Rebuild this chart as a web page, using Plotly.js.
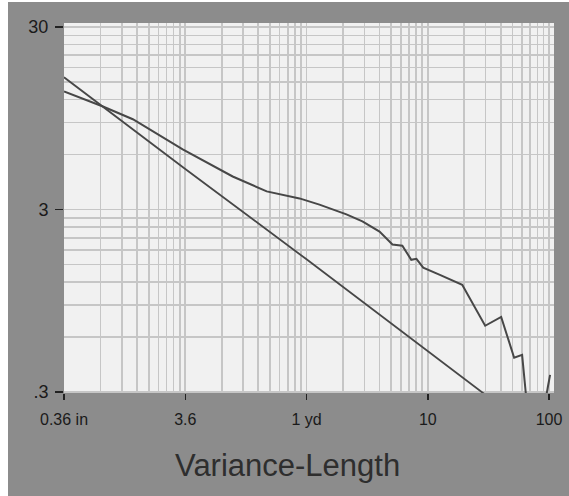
<!DOCTYPE html>
<html>
<head>
<meta charset="utf-8">
<script src="https://cdn.plot.ly/plotly-3.0.1.min.js"></script>
<style>
html,body{margin:0;padding:0;background:#ffffff;}
#chart{position:absolute;left:8px;top:2px;width:561px;height:494px;}
</style>
</head>
<body>
<div id="chart"></div>
<script>
// Observed variance curve (length in inches, value)
const curveX = [0.36, 0.754, 1.33, 3.43, 8.86, 16.9, 31.5, 46.0, 76.8, 104, 144, 184, 222, 263, 290, 330, 448, 692, 1070, 1450, 1855, 2158, 2330, null, 3400, 3670];
const curveY = [13.3, 11.0, 9.37, 6.41, 4.55, 3.77, 3.45, 3.19, 2.82, 2.58, 2.27, 1.93, 1.90, 1.59, 1.61, 1.44, 1.32, 1.16, 0.692, 0.774, 0.462, 0.479, 0.282, null, 0.282, 0.372];
// Reference straight line
const refX = [0.36, 3.6, 36, 360, 1050];
const refY = [15.9, 5.0, 1.6, 0.5, 0.293];
// Tick labels
const xTickVals = [0.36, 3.6, 36, 360, 3600];
const xTickText = ["0.36 in", "3.6", "1 yd", "10", "100"];
const yTickVals = [0.3, 3, 30];
const yTickText = [".3", "3", "30"];

function minorVals(bases) {
  const out = [];
  bases.forEach(b => { for (let k = 2; k <= 9; k++) out.push(b * k); });
  return out;
}
const xMinor = minorVals([0.36, 3.6, 36, 360]);
const yMinor = minorVals([0.3, 3]);

const lineColor = '#474747';
const gridColor = '#c6c6c6';

const traces = [
  {x: refX, y: refY, mode: 'lines', line: {color: lineColor, width: 1.8}, hoverinfo: 'skip'},
  {x: curveX, y: curveY, mode: 'lines', connectgaps: false, line: {color: lineColor, width: 2}, hoverinfo: 'skip'}
];

const layout = {
  width: 561, height: 494,
  margin: {l: 56, r: 15, t: 21, b: 103},
  paper_bgcolor: '#8c8c8c',
  plot_bgcolor: '#f1f1f1',
  showlegend: false,
  font: {family: 'Liberation Sans, Arial, sans-serif', color: '#1e1e1e'},
  xaxis: {
    type: 'log',
    range: [Math.log10(0.36), 3.597],
    tickmode: 'array', tickvals: xTickVals, ticktext: xTickText,
    ticks: 'outside', ticklen: 6, tickwidth: 1.5, tickcolor: '#222',
    ticklabelstandoff: 6,
    tickfont: {size: 16, color: '#1a1a1a'},
    showgrid: true, gridcolor: gridColor, gridwidth: 1.6,
    minor: {tickmode: 'array', tickvals: xMinor, showgrid: true, gridcolor: gridColor, gridwidth: 1.6, ticks: ''},
    zeroline: false, showline: false, fixedrange: true
  },
  yaxis: {
    type: 'log',
    range: [-0.5284, 1.499],
    tickmode: 'array', tickvals: yTickVals, ticktext: yTickText,
    ticks: 'outside', ticklen: 8, tickwidth: 1.5, tickcolor: '#222',
    ticklabelstandoff: 3,
    tickfont: {size: 18, color: '#1a1a1a'},
    showgrid: true, gridcolor: gridColor, gridwidth: 1.6,
    minor: {tickmode: 'array', tickvals: yMinor, showgrid: true, gridcolor: gridColor, gridwidth: 1.6, ticks: ''},
    zeroline: false, showline: false, fixedrange: true
  },
  annotations: [{
    text: 'Variance-Length', xref: 'paper', yref: 'paper',
    x: 0.457, y: -0.197, xanchor: 'center', yanchor: 'middle', showarrow: false,
    font: {size: 31, color: '#2e2e2e', family: 'Liberation Sans, Arial, sans-serif'}
  }]
};

Plotly.newPlot('chart', traces, layout, {staticPlot: true, displayModeBar: false});
</script>
</body>
</html>
